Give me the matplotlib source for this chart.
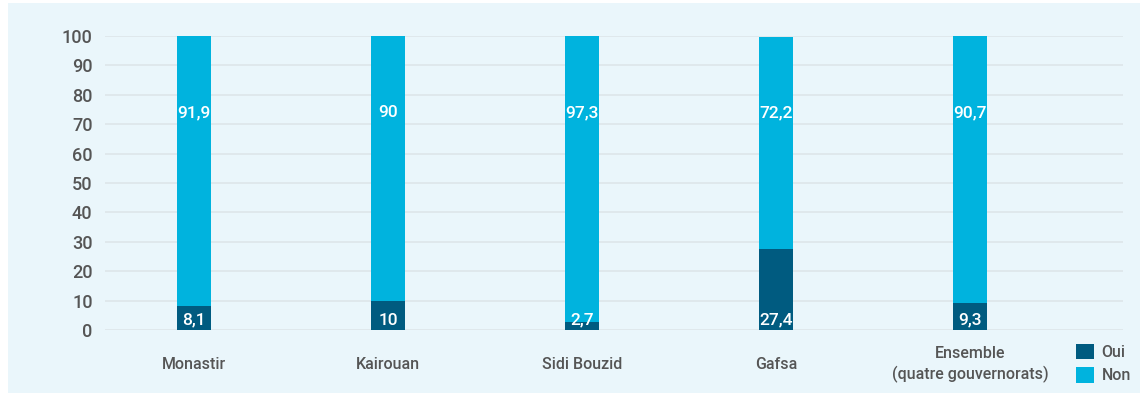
import matplotlib.pyplot as plt
from matplotlib.patches import Rectangle

regions = ['Monastir', 'Kairouan', 'Sidi Bouzid', 'Gafsa', 'Ensemble\n(quatre gouvernorats)']
oui = [8.1, 10, 2.7, 27.4, 9.3]
non = [91.9, 90, 97.3, 72.2, 90.7]

plt.rcParams['font.family'] = ['Roboto', 'DejaVu Sans']
plt.rcParams['font.weight'] = 'medium'

dark = '#005b80'
light = '#00b3de'
grey = '#555555'

fig = plt.figure(figsize=(11.47, 3.96), dpi=100)
fig.patch.set_facecolor('white')
fig.patches.append(Rectangle((8 / 1147, 3 / 396), 1132 / 1147, 390 / 396,
                             transform=fig.transFigure, facecolor='#eaf6fb',
                             edgecolor='none', zorder=-10))

ax = fig.add_axes([105 / 1147, 66 / 396, 1018 / 1147, 294 / 396])
ax.set_facecolor('none')

x = [0, 1, 2, 3, 4]
w = 0.175
ax.bar(x, oui, width=w, color=dark, label='Oui', zorder=3)
ax.bar(x, non, width=w, bottom=oui, color=light, label='Non', zorder=3)

for xi, o, n in zip(x, oui, non):
    ax.text(xi, 0.8, f'{o:g}'.replace('.', ','), ha='center', va='bottom',
            color='white', fontsize=12.5, zorder=4)
    ax.text(xi, 74, f'{n:g}'.replace('.', ','), ha='center', va='center',
            color='white', fontsize=12.5, zorder=4)

ax.set_xlim(-0.459, 4.789)
ax.set_ylim(0, 100)
ax.set_yticks(range(0, 101, 10))
ax.yaxis.grid(True, color='#dde6ea', linewidth=1.2, zorder=0)
ax.set_axisbelow(True)
for s in ax.spines.values():
    s.set_visible(False)
ax.tick_params(axis='y', length=0, pad=9, labelsize=13, labelcolor=grey)
ax.tick_params(axis='x', length=0, pad=25, labelsize=11.5, labelcolor=grey)
ax.set_xticks(x)
ax.set_xticklabels(regions, linespacing=1.35, va='center')

leg = ax.legend(loc='upper left', bbox_to_anchor=(1076 / 1147, 52 / 396),
                bbox_transform=fig.transFigure, frameon=False, fontsize=11.5,
                handlelength=1.1, handleheight=1.1, handletextpad=0.5,
                labelspacing=0.45, borderpad=0, borderaxespad=0)
for t in leg.get_texts():
    t.set_color(grey)

fig.savefig('out.png', dpi=100)
